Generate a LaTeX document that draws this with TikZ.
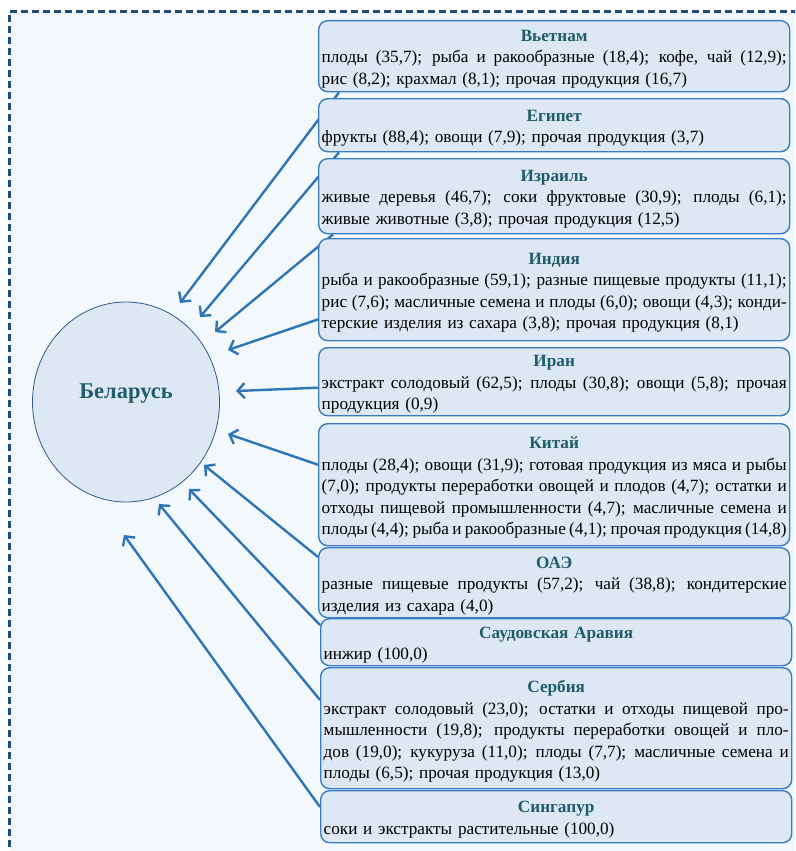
\documentclass[tikz,border=0pt]{standalone}
\usepackage{fontspec}
\setmainfont{Liberation Serif}
\usepackage{tikz}
\usetikzlibrary{shapes.geometric}
\usetikzlibrary{arrows.meta}
\usepackage{xcolor}

\pgfdeclarelayer{frame}
\pgfdeclarelayer{links}
\pgfsetlayers{frame,links,main}

\definecolor{framecol}{HTML}{1F4E79}
\definecolor{pagefill}{HTML}{F3F8FC}
\definecolor{boxfill}{HTML}{DDE8F4}
\definecolor{boxline}{HTML}{3A7CC3}
\definecolor{linkcol}{HTML}{2E75B6}
\definecolor{titlecol}{HTML}{1F5C6C}
\definecolor{ringcol}{HTML}{2F5A8C}

\newlength{\cardw}
\setlength{\cardw}{465pt}
\newcommand{\cname}[1]{\hbox to\cardw{\hfil\bfseries\color{titlecol}#1\hfil}}
\newcommand{\jline}[1]{\hbox to\cardw{\spaceskip=0.25em plus 1em minus 0.2em #1}}
\newcommand{\eline}[1]{\hbox{#1}}
\newcommand{\card}[2]{\vbox{\kern3pt\cname{#1}#2\kern-3pt}}

\begin{document}
\begin{tikzpicture}[
    x=1pt, y=-1pt,
    >={Straight Barb[length=7pt,width=15pt]},
    country/.style={draw=boxline, fill=boxfill, line width=1.4pt, rounded corners=9pt,
        anchor=north west, text width=\cardw, inner xsep=3pt, inner ysep=2pt,
        font=\fontsize{17.2}{21.5}\selectfont},
    link/.style={->, line width=2.4pt, linkcol},
    hub/.style={ellipse, draw=ringcol, fill=boxfill, line width=0.8pt,
        minimum width=187pt, minimum height=200pt, inner sep=0pt,
        font=\fontsize{22.5}{26}\selectfont\bfseries, text=titlecol,
        text height=15pt, text depth=23pt}
]
    \useasboundingbox (0,0) rectangle (795,851);

    % Dashed frame
    \begin{pgfonlayer}{frame}
        \clip (0,0) rectangle (795,851);
        \fill[pagefill] (9,12) rectangle (820,880);
        \draw[framecol, line width=3pt, dash pattern=on 7pt off 4pt] (9,880) -- (9,12) -- (820,12);
    \end{pgfonlayer}

    % Importer
    \node[hub] (bel) at (126,402) {Беларусь};

    % Supplier countries
    \node[country, minimum height=71pt] (viet) at (318,20) {\card{Вьетнам}{%
        \jline{плоды (35,7); рыба и ракообразные (18,4); кофе, чай (12,9);}%
        \eline{рис (8,2); крахмал (8,1); прочая продукция (16,7)}}};
    \node[country, minimum height=53pt] (egy) at (318,98) {\card{Египет}{%
        \eline{фрукты (88,4); овощи (7,9); прочая продукция (3,7)}}};
    \node[country, minimum height=75pt] (isr) at (318,158) {\card{Израиль}{%
        \jline{живые деревья (46,7); соки фруктовые (30,9); плоды (6,1);}%
        \eline{живые животные (3,8); прочая продукция (12,5)}}};
    \node[country, minimum height=102pt] (ind) at (318,238) {\card{Индия}{%
        \jline{рыба и ракообразные (59,1); разные пищевые продукты (11,1);}%
        \jline{рис (7,6); масличные семена и плоды (6,0); овощи (4,3); конди-}%
        \eline{терские изделия из сахара (3,8); прочая продукция (8,1)}}};
    \node[country, minimum height=68pt] (irn) at (318,347) {\card{Иран}{%
        \jline{экстракт солодовый (62,5); плоды (30,8); овощи (5,8); прочая}%
        \eline{продукция (0,9)}}};
    \node[country, minimum height=122pt] (chn) at (318,423) {\card{Китай}{%
        \jline{плоды (28,4); овощи (31,9); готовая продукция из мяса и рыбы}%
        \jline{(7,0); продукты переработки овощей и плодов (4,7); остатки и}%
        \jline{отходы пищевой промышленности (4,7); масличные семена и}%
        \jline{плоды (4,4); рыба и ракообразные (4,1); прочая продукция (14,8)}}};
    \node[country, minimum height=70pt] (uae) at (318,547) {\card{ОАЭ}{%
        \jline{разные пищевые продукты (57,2); чай (38,8); кондитерские}%
        \eline{изделия из сахара (4,0)}}};
    \node[country, minimum height=47pt] (sau) at (320,618) {\card{Саудовская Аравия}{%
        \eline{инжир (100,0)}}};
    \node[country, minimum height=121pt] (srb) at (320,667) {\card{Сербия}{%
        \jline{экстракт солодовый (23,0); остатки и отходы пищевой про-}%
        \jline{мышленности (19,8); продукты переработки овощей и пло-}%
        \jline{дов (19,0); кукуруза (11,0); плоды (7,7); масличные семена и}%
        \eline{плоды (6,5); прочая продукция (13,0)}}};
    \node[country, minimum height=52pt] (sgp) at (320,790) {\card{Сингапур}{%
        \eline{соки и экстракты растительные (100,0)}}};

    % Flows into Belarus
    \begin{pgfonlayer}{links}
        \draw[link] ([xshift=21pt]viet.south west) -- ([shift={(54,-99)}]bel.center);
        \draw[link] ([xshift=21pt]egy.south west) -- ([shift={(74,-85)}]bel.center);
        \draw[link] ([xshift=15pt]isr.south west) -- ([shift={(89,-70)}]bel.center);
        \draw[link] ([yshift=22pt]ind.south west) -- ([shift={(102,-52)}]bel.center);
        \draw[link] ([yshift=-6pt]irn.west) -- ([shift={(110,-11)}]bel.center);
        \draw[link] ([yshift=20pt]chn.west) -- ([shift={(102,32)}]bel.center);
        \draw[link] ([yshift=-10pt]uae.north west) -- ([shift={(78,63)}]bel.center);
        \draw[link] ([yshift=-7pt]sau.north west) -- ([shift={(63,87)}]bel.center);
        \draw[link] ([yshift=-33pt]srb.north west) -- ([shift={(33,102)}]bel.center);
        \draw[link] ([yshift=-17pt]sgp.north west) -- ([shift={(-2,133)}]bel.center);
    \end{pgfonlayer}
\end{tikzpicture}
\end{document}
